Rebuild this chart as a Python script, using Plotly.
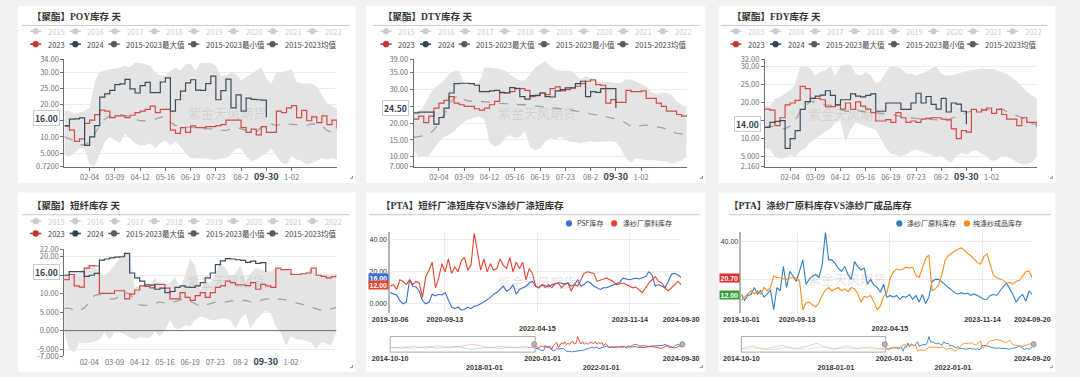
import pandas as pd
import plotly.graph_objects as go

# ===================== DATA =====================
week_index = list(range(55))
week_tick_index = [5, 10, 15, 20, 25, 30, 35, 40, 45]
week_tick_labels = ["02-04", "03-09", "04-12", "05-16", "06-19", "07-23", "08-2", "09-30", "1-02"]
legend_years = ["2015", "2016", "2017", "2018", "2019", "2020", "2021", "2022"]
legend_series = ["2023", "2024", "2015-2023最大值", "2015-2023最小值", "2015-2023均值"]

# POY
poy_2023 = [13.4, 12.1, 8.6, 9.4, 14.2, 15.2, 16.9, 18.3, 18.0, 16.0, 16.5, 16.5, 16.0, 16.7, 17.5, 18.0, 18.5, 19.5, 17.5, 18.5,
            18.5, 12.1, 11.1, 12.9, 11.4, 13.4, 12.9, 12.9, 13.2, 13.2, 13.5, 13.8, 15.2, 15.2, 15.2, 12.9, 11.4, 12.4, 10.6, 13.2,
            11.4, 11.4, 18.0, 17.5, 19.0, 19.7, 16.0, 18.2, 15.0, 16.2, 14.4, 16.5, 13.8, 15.2, 12.6]
poy_2024 = [13.4, 15.5, 15.6, 15.9, 7.4, 10.0, 13.5, 22.3, 23.3, 24.4, 26.2, 26.4, 27.8, 24.9, 23.6, 25.9, 26.9, 23.7, 23.7, 27.0,
            28.3, 18.0, 21.5, 24.2, 26.7, 27.7, 24.5, 24.4, 26.5, 28.8, 21.5, 24.3, 27.9, 19.0, 23.0, 18.0, 22.0, 21.6, 21.5, 21.4, 16.0]
poy_mean = [10, 9.5, 8.8, 7.6, 7.5, 8.5, 11, 13.5, 15.5, 16.5, 16.5, 17, 16.5, 16.5, 15.5, 15, 15, 15.5, 15.5, 16,
            16.5, 14.5, 13.5, 13.5, 13, 13, 12.8, 12.5, 12.5, 12.5, 12.5, 12, 12, 12.5, 13, 12.5, 12, 11.5, 11.5, 13,
            14, 14, 13.5, 14, 14, 14, 13.8, 13.5, 13.5, 14, 14, 13.5, 12, 11.5, 10]
poy_max = [18, 18, 17, 17.5, 18, 19, 27, 30, 30.5, 31, 31, 31.5, 32, 31.5, 33, 33, 32.5, 32, 30, 29,
           29, 30.5, 31.5, 30.5, 32.5, 32.7, 30.5, 33, 33, 33, 32, 29, 29, 30, 29.5, 27.5, 28.5, 29.5, 30.5, 31.5,
           28, 26.5, 30, 30, 30.5, 31, 27, 26.5, 26.5, 26.5, 25.5, 23, 20.5, 19.5, 18.7]
poy_min = [4.4, 3.9, 5, 6.5, 6.5, 1.4, 1, 4.5, 8.4, 10, 9, 8, 11, 9.5, 8, 7.4, 7.4, 8, 6.5, 8,
           9, 7.4, 8.5, 7, 5, 3.4, 3.4, 3.4, 3.4, 3, 2.9, 3.5, 3.5, 4.5, 6.4, 6.4, 4, 2.4, 3, 4,
           5, 6.4, 4, 2, 1.4, 4, 3, 2.5, 1.4, 2, 2.5, 3.5, 3, 3.5, 3]

# DTY
dty_2023 = [21.2, 22.1, 20.2, 22.1, 24.5, 26, 26.8, 27.9, 26, 25.5, 25, 25, 24.3, 23.9, 24.5, 25.5, 26.5, 29, 29, 29.4,
            30.3, 30.3, 29.8, 27.9, 28.4, 29, 28.5, 30.3, 30.8, 29.6, 30, 30.5, 31, 31.8, 32.5, 32.9, 31.5, 31.3, 26, 27,
            26.2, 26.2, 29.8, 29.4, 29.4, 29.6, 27.4, 27.4, 26, 25, 23.6, 23.6, 22.6, 22.1, 22.6]
dty_2024 = [23.1, 23.3, 23.3, 23.3, 19.7, 21.7, 24.5, 29, 31.8, 31.9, 31.9, 31.8, 31.3, 29.4, 29.4, 29.6, 29.8, 29.2, 29.0, 30.6,
            30.4, 27.9, 27.2, 28.2, 28.2, 29, 27.9, 27.8, 29.6, 30, 30.5, 30.5, 31.8, 32.5, 27.9, 29.4, 29.2, 30.3, 30.3, 30.3, 24.5]
dty_mean = [15.8, 16, 16.3, 16.8, 18, 20, 22.5, 25.5, 27.5, 28.4, 27, 26.5, 26.8, 26.5, 26.5, 26.3, 26, 26, 25.8, 25.7,
            25.5, 25.5, 25.5, 25.3, 25.2, 25, 24.8, 24.7, 24.5, 24.3, 24.3, 24, 23.8, 23.5, 23.1, 22.8, 22.5, 22.1, 21.8, 21.5,
            21.3, 21, 20, 19, 18.8, 19.3, 19.4, 19.2, 19, 18.7, 18.3, 17.8, 17, 16.8, 17]
dty_max = [23.5, 23.5, 25, 28, 30.3, 31.5, 32.7, 34.5, 35.6, 35.6, 31.8, 31.8, 31.5, 32, 36.6, 36.6, 36.5, 36.2, 35.6, 34.5,
           33.5, 32.7, 32.7, 34.6, 36.5, 37.5, 38.5, 37, 36, 35.6, 35.6, 35.6, 34.5, 33, 34, 33.5, 32.5, 32.3, 32.3, 32.3,
           32, 32, 33, 33, 32.3, 31.8, 31, 29.3, 28.8, 29, 29, 28.5, 26.5, 25.5, 24.8]
dty_min = [12, 10, 10, 10.3, 12.5, 14.4, 15.8, 16.5, 17.7, 19.2, 20.5, 21.2, 21.5, 22, 21.2, 14.4, 13, 13.5, 15.5, 16.5,
           15.5, 16, 17.7, 13, 12, 12.5, 14.4, 15.7, 15, 16, 15, 14.5, 14.4, 14, 14.4, 14.6, 14.4, 14.5, 14.4, 14.6,
           14.4, 12.5, 9.6, 8.2, 9.6, 9.3, 9, 9, 8.8, 8.7, 8.5, 8, 8.3, 9, 10]

# FDY
fdy_2023 = [18.2, 17.9, 13.6, 15.8, 19.4, 19.9, 20.6, 24.5, 23.9, 21.2, 21.2, 20.8, 18.8, 18.9, 19.4, 18.2, 19.9, 18.1, 20.2, 19,
            18.2, 17.2, 14.9, 14.9, 15.3, 14.5, 17.2, 15.8, 14.5, 14.9, 14.5, 15.4, 15.6, 15.8, 15.8, 15.4, 15.2, 12.7, 10, 12.2,
            11.8, 18.1, 17.4, 17.9, 18.5, 17, 18.1, 16.7, 15.4, 15.4, 13.6, 15.8, 14.5, 14.5, 13.1]
fdy_2024 = [13.1, 14.5, 14.8, 15, 7.3, 10, 12.2, 18.1, 20.3, 21.2, 21.8, 22.1, 23.3, 22, 19.4, 20.8, 20.8, 22.4, 21.8, 21.6,
            22, 22.4, 17.6, 17.6, 19.9, 19.9, 19.9, 18.1, 18.1, 19.9, 22.6, 19.9, 21.7, 19.5, 18.2, 21.2, 17.4, 19.9, 19.6, 17.6, 14]
fdy_mean = [13.1, 13.5, 13.3, 12.8, 12.7, 13.5, 15, 17.5, 19, 20.3, 20.2, 19.6, 19.3, 19.3, 18.6, 18.2, 17.6, 17.7, 18.1, 17.6,
            17.3, 17.2, 17.2, 17, 16.8, 16.4, 16.2, 16.1, 15.9, 15.7, 15.6, 15.5, 15.4, 15.4, 15.3, 15.2, 15.1, 15.6, 16, 16.6,
            17.2, 17.8, 18.2, 18.2, 18, 18, 18.1, 18.3, 17.5, 17, 16.5, 15.8, 15, 14.2, 13.8]
fdy_max = [19, 19, 21, 21.5, 22.5, 23.5, 25, 30, 30, 29.5, 27.5, 28.5, 29, 30.2, 27.5, 30.2, 30.5, 30.6, 28, 27.5,
           28.5, 27.5, 25.3, 26, 28.5, 30.2, 30, 29.5, 28, 28, 27.5, 28, 28.5, 29.5, 30.2, 28, 27.5, 27.5, 28, 28.5,
           28.8, 29, 29.3, 29.5, 29.3, 29.3, 29, 28.5, 28, 27, 26, 24.5, 23, 22, 21.2]
fdy_min = [7.3, 7, 5, 4.5, 4.6, 5.5, 5, 6.5, 7.3, 9, 10, 11, 12, 12.7, 14.5, 15, 9.1, 12.5, 14.5, 14,
           13.5, 13, 12.5, 10, 7.5, 5.8, 5.5, 5.2, 5.5, 6.5, 7, 6.5, 5.8, 5.5, 5, 5.3, 4, 3.3, 5.2, 6,
           5.5, 6.5, 6.8, 5.8, 5.2, 3.8, 4, 5.2, 5, 4.5, 3.5, 2.8, 2.8, 3.5, 5]

# 短纤
psf_2023 = [13.8, 15.2, 12.1, 11.8, 16.9, 17.6, 17.5, 10.1, 10.1, 10.1, 10.8, 10.8, 8.6, 9.9, 11, 12.1, 12, 11.6, 12.5, 12.5,
            11.5, 8.6, 8.6, 10.3, 9, 8.2, 9.5, 10.3, 9, 10.3, 11.7, 12.1, 13.4, 13, 12.4, 12.4, 12.2, 13, 11.2, 12.5,
            12.1, 11.7, 16.9, 16.5, 16.5, 15.2, 15.2, 15.4, 15.6, 16.9, 15, 14.7, 14.3, 14.6, 15.3]
psf_2024 = [15, 16, 16, 16, 14.7, 15, 15.5, 19.1, 19.4, 19.7, 19.9, 20, 20.9, 15.6, 14.3, 13.4, 12.4, 12.3, 11.2, 11.5,
            10.3, 10.6, 11.7, 12.1, 11.8, 11.7, 12.1, 13, 14.3, 15.6, 17.9, 18.9, 19.5, 19.4, 19.2, 19, 18.5, 18.8, 18.2, 18.4, 15.9]
psf_mean = [6, 6.1, 5.5, 5.3, 6.2, 7.5, 9.5, 9.9, 9, 8.6, 8.6, 9.3, 10.3, 10, 8.3, 7, 6.8, 7, 7.3, 7.8,
            7.4, 7.9, 7.8, 8.3, 8.6, 8, 7.3, 6.6, 6.9, 7.4, 7.7, 7.8, 7.7, 8, 8.1, 8.2, 8.2, 7.8, 7.8, 8.2,
            8.6, 8.6, 8.6, 8.5, 8.3, 8, 7.6, 7.2, 6.8, 6.4, 5.9, 5.5, 5.5, 5.8, 6.3]
psf_max = [15.2, 15.5, 15.3, 15.5, 17, 17.8, 17.6, 15.5, 15, 16, 17.8, 19.5, 21.3, 21, 11.5, 12.3, 12.5, 12, 14.2, 12.6,
           12.5, 13, 14.5, 11.5, 15, 19.5, 17.5, 11, 13.5, 12.5, 15.5, 18.5, 17, 14.5, 15.5, 17.8, 13, 15.5, 17, 16.5,
           16, 16, 17, 16.5, 16.6, 15.8, 15.5, 15.5, 15.7, 17, 15.3, 15.2, 15.2, 15.2, 15.4]
psf_min = [-0.5, -5, -5.9, -3.3, -3.5, -3.3, -3, -2.4, -0.5, -2.4, -0.5, -0.5, -1, -1.8, -2.4, -1.8, -2, -2, -0.3, -1.5,
           0, 2.9, 0.5, 0.5, 1.5, 1.1, 2.9, 3.8, 3.5, 2.9, 2.9, 3.3, 3.3, 2.9, 0.5, 3.3, 4.6, 0.5, 2.9, 4.2,
           5.5, 4.6, 1.1, -0.5, -4.1, -1.5, -2.4, -2.4, -2.8, -3.2, -5, -3.2, -3.5, -4, -0.5]

# PTA panels: 短纤厂涤短库存 vs 涤纱厂涤短库存
psf_start, psf_end = "2019-10-06", "2024-09-30"
history_start = "2014-10-10"
psf_stock = [7, 6, 5.5, 2, 0, 1, 15, 11, 10.5, 8, 2, 0, 1, 6, 5, 6, 5.5, 7, 3, -2,
             -3, -2, -4, -3.5, -2, -3, -1.5, -1, 0, 1, 2.5, 4, 6, 7, 9, 11, 8, 9, 12, 6,
             9, 10, 11, 13, 14, 11, 10, 12, 11, 10.5, 12, 12.5, 13, 13, 12, 13, 11, 12, 15, 11,
             12, 14, 13, 11, 10, 9, 10, 10, 11, 12, 13, 13.5, 16, 15.5, 15, 15.5, 16, 15.5, 16.5, 17,
             20, 18, 11, 12, 11, 10, 14, 18.5, 19, 18, 16.4]
spinner_psf_stock = [11, 12, 9, 15, 14, 12, 15, 12, 14, 13, 4, 17, 21, 26, 10, 16, 25, 20, 28, 19,
                     23, 20, 27, 29, 21, 24, 44, 31, 21, 28, 20, 25, 21, 22, 28, 24, 22, 29, 20, 26,
                     22, 26, 15, 22, 19, 11, 10, 12, 10, 12, 10, 12.5, 13, 10, 12.5, 13, 8, 12, 11, 15,
                     19, 20, 19.5, 19, 14, 15, 15.5, 16, 15, 14, 12, 12.5, 13, 12, 11, 10, 10.5, 9, 7, 10,
                     13, 15, 17, 14, 13, 10, 8, 10, 12, 14, 12]
psf_stock_early = [8, 10, 12, 9, 7, 11, 13, 10, 8, 9, 12, 14, 11, 8, 4, 6, 10, 12, 9, 7, 10, 12, 9, 8, 10, 7]
spinner_psf_stock_early = [12, 9, 7, 11, 14, 10, 8, 12, 15, 13, 9, 10, 13, 16, 20, 18, 13, 9, 11, 14, 12, 9, 11, 13, 10, 11]
p5_ticks = ["2019-10-06", "2020-09-13", "2022-04-15", "2023-11-14", "2024-09-30"]
p5_mini_ticks = ["2014-10-10", "2018-01-01", "2020-01-01", "2022-01-01", "2024-09-30"]

# PTA panels: 涤纱厂原料库存 vs 纯涤纱成品库存
yarn_start, yarn_end = "2019-10-01", "2024-09-20"
yarn_raw_stock = [12.3, 9, 11.5, 12, 15.7, 12.3, 14, 10.6, 12.3, 14.5, 4, 15.7, 14, 26.8, 15.7, 24.3, 21.7, 19, 24.3, 30.3,
                  17.4, 20, 21.7, 22.6, 21, 27.7, 44.8, 30.3, 30.3, 28.5, 26, 24.3, 26.8, 22.5, 20, 29.4, 26.8, 25, 26, 17.4,
                  20, 17, 15.7, 13.2, 17.4, 10.6, 11.5, 10.6, 11.5, 9.5, 11, 10.6, 12, 9.5, 11.5, 8, 12, 7.2, 10.6, 19,
                  20, 20, 18.8, 17, 15.7, 14.5, 13, 12.3, 13, 12.3, 12.8, 11.5, 12.3, 11.5, 10.6, 9.5, 9.5, 11.5, 12, 11.5,
                  14, 16, 18, 15, 12, 8, 10.5, 12, 8.5, 14, 12]
yarn_product_stock = [8.9, 10.6, 12.3, 14, 12.3, 14, 12.3, 15.7, 14, 15.7, 21.7, 21, 20.9, 20.5, 20, 20.9, 20.9, 20.9, 19, 3.8,
                      7.5, 8, 6.5, 5.5, 7.5, 11.5, 14.5, 15.7, 14, 15, 15.7, 14, 15, 13.5, 15.7, 15, 12.5, 8, 11, 10.6,
                      11.5, 8, 4, 6, 11, 13, 20.5, 24, 25.5, 25, 25.5, 26.5, 26, 26.5, 22, 21, 26, 31, 33, 14,
                      15, 17, 22.5, 30, 32.5, 34, 35, 35.8, 36.6, 35.5, 33.7, 32.5, 30.5, 29, 28, 32, 33.5, 28, 22, 20.9,
                      20, 19.5, 18, 18.5, 17.5, 19, 19.5, 21.5, 24, 24.5, 20.7]
yarn_raw_stock_early = [10, 14, 18, 12, 9, 13, 16, 20, 14, 10, 12, 17, 22, 26, 18, 13, 10, 14, 19, 15, 11, 13, 16, 12, 10, 12.3]
yarn_product_stock_early = [12, 9, 10, 13, 11, 8, 10, 12, 15, 13, 10, 9, 11, 14, 16, 12, 9, 11, 13, 10, 12, 14, 11, 9, 10, 8.9]
p6_ticks = ["2019-10-01", "2020-09-13", "2022-04-15", "2023-11-14", "2024-09-20"]
p6_mini_ticks = ["2014-10-10", "2018-01-01", "2020-01-01", "2022-01-01", "2024-09-20"]

# ===================== LAYOUT =====================
W, H = 1080, 377
FONT = "Noto Sans CJK SC, Noto Sans, sans-serif"
TITLE_FONT = "Liberation Serif, Noto Sans CJK SC, serif"
ARIAL = "Liberation Sans, Arial, Noto Sans CJK SC, sans-serif"
RED, NAVY, DGRAY = "#c23531", "#2f4554", "#5b5b5b"


def fx(x):
    return x / W


def fy(y):
    return 1 - y / H


fig = go.Figure()
shapes, annos = [], []
layout = {}

# panels
for x0, y0, x1, y1 in [(0, 0, 349, 182), (360, 0, 711, 182), (725, 0, 1073, 182),
                       (0, 192, 349, 377), (360, 192, 711, 377), (725, 192, 1073, 377)]:
    shapes.append(dict(type="rect", xref="paper", yref="paper", x0=fx(x0), x1=fx(x1), y0=fy(y1), y1=fy(y0),
                       fillcolor="white", line=dict(width=0), layer="below"))
    cx, cy = x1 - 3, y1 - 4.5
    shapes.append(dict(type="line", xref="paper", yref="paper", x0=fx(cx - 2.5), x1=fx(cx), y0=fy(cy), y1=fy(cy),
                       line=dict(color="#888", width=1)))
    shapes.append(dict(type="line", xref="paper", yref="paper", x0=fx(cx), x1=fx(cx), y0=fy(cy - 2.5), y1=fy(cy),
                       line=dict(color="#888", width=1)))


def title(text, x, y, rule):
    annos.append(dict(xref="paper", yref="paper", x=fx(x), y=fy(y), text="<b>%s</b>" % text, showarrow=False,
                      xanchor="left", yanchor="middle", font=dict(size=9.5, color="#333", family=TITLE_FONT)))
    shapes.append(dict(type="line", xref="paper", yref="paper", x0=fx(rule[0]), x1=fx(rule[1]), y0=fy(rule[2]),
                       y1=fy(rule[2]), line=dict(color="#c8c8c8", width=1)))


def legend_item(cx, cy, color, text, tcolor, size=7.5, with_line=True, r=3.2, gap=10.5):
    if with_line:
        shapes.append(dict(type="line", xref="paper", yref="paper", x0=fx(cx - 5.8), x1=fx(cx + 5.8), y0=fy(cy),
                           y1=fy(cy), line=dict(color=color, width=1.5)))
    shapes.append(dict(type="circle", xref="paper", yref="paper", x0=fx(cx - r), x1=fx(cx + r), y0=fy(cy + r),
                       y1=fy(cy - r), fillcolor=color, line=dict(color=color, width=0)))
    annos.append(dict(xref="paper", yref="paper", x=fx(cx + gap), y=fy(cy), text=text, showarrow=False,
                      xanchor="left", yanchor="middle", font=dict(size=size, color=tcolor, family=FONT)))


def watermark(x, y):
    annos.append(dict(xref="paper", yref="paper", x=fx(x), y=fy(y), text="紫金天风期货", showarrow=False,
                      font=dict(size=13, color="rgba(150,150,150,0.25)", family=FONT)))


seasonal_panels = [
    dict(n=1, title="【聚酯】POY库存 天", plot=(48, 330, 55, 165.7), yrange=[0.72, 34],
         yticks=[0.72, 5, 10, 15, 20, 25, 30, 34],
         ytext=["0.7200", "5.000", "10.00", "15.00", "20.00", "25.00", "30.00", "34.00"],
         mark=(16, "16.00"), data=(poy_max, poy_min, poy_mean, poy_2023, poy_2024),
         title_xy=(12, 11), rule=(4, 343, 20), leg=(18.3, 26, 39.3), wm=(174, 98), zero=False),
    dict(n=2, title="【聚酯】DTY库存 天", plot=(409.3, 691.7, 55, 165.7), yrange=[7, 39],
         yticks=[7, 10, 15, 20, 25, 30, 35, 39],
         ytext=["7.000", "10.00", "15.00", "20.00", "25.00", "30.00", "35.00", "39.00"],
         mark=(24.5, "24.50"), data=(dty_max, dty_min, dty_mean, dty_2023, dty_2024),
         title_xy=(375, 11), rule=(367, 705, 20), leg=(380.7, 26, 39.3), wm=(537, 98), zero=False),
    dict(n=3, title="【聚酯】FDY库存 天", plot=(772.7, 1054, 55, 165.7), yrange=[2.16, 32],
         yticks=[2.16, 5, 10, 15, 20, 25, 30, 32],
         ytext=["2.160", "5.000", "10.00", "15.00", "20.00", "25.00", "30.00", "32.00"],
         mark=(14, "14.00"), data=(fdy_max, fdy_min, fdy_mean, fdy_2023, fdy_2024),
         title_xy=(737, 11), rule=(727, 1065, 20), leg=(742.7, 26, 39.3), wm=(900, 99), zero=False),
    dict(n=4, title="【聚酯】短纤库存 天", plot=(47.7, 329.3, 250.7, 361), yrange=[-7, 22],
         yticks=[-7, -5, 0, 5, 10, 15, 20, 22],
         ytext=["-7.000", "-5.000", "0.000", "5.000", "10.00", "15.00", "20.00", "22.00"],
         mark=(16, "16.00"), data=(psf_max, psf_min, psf_mean, psf_2023, psf_2024),
         title_xy=(12, 205.7), rule=(4, 343, 215), leg=(18.3, 221.7, 234.3), wm=(173, 295), zero=True),
]

AXC = "#6e7079"
row2_offsets = [0, 41, 81, 163.4, 245]
row2_colors = [RED, NAVY, DGRAY, DGRAY, DGRAY]

for p in seasonal_panels:
    n = p["n"]
    xa, ya = "x%d" % n, "y%d" % n
    vmax, vmin, vmean, v23, v24 = p["data"]
    fig.add_trace(go.Scatter(x=week_index, y=vmin, mode="lines", line=dict(width=0, color="#e4e4e4"),
                             xaxis=xa, yaxis=ya, showlegend=False, hoverinfo="skip"))
    fig.add_trace(go.Scatter(x=week_index, y=vmax, mode="lines", line=dict(width=0, color="#e4e4e4"),
                             fill="tonexty", fillcolor="#e4e4e4", xaxis=xa, yaxis=ya, showlegend=False,
                             hoverinfo="skip"))
    fig.add_trace(go.Scatter(x=week_index, y=vmean, mode="lines", line=dict(width=1.3, color="#a3a3a3", dash="dash"),
                             xaxis=xa, yaxis=ya, showlegend=False))
    fig.add_trace(go.Scatter(x=week_index, y=v23, mode="lines", line=dict(width=1.2, color="#d44a48", shape="hv"),
                             xaxis=xa, yaxis=ya, showlegend=False))
    fig.add_trace(go.Scatter(x=week_index[:len(v24)], y=v24, mode="lines",
                             line=dict(width=1.2, color="#3b4c5c", shape="hv"),
                             xaxis=xa, yaxis=ya, showlegend=False))
    l, r, t, b = p["plot"]
    ticktext = [('<span style="font-size:9px;color:#333f50"><b>%s</b></span>' % s) if s == "09-30" else s
                for s in week_tick_labels]
    layout["xaxis%d" % n] = dict(domain=[fx(l), fx(r)], anchor=ya, range=[0, 54], tickvals=week_tick_index,
                                 ticktext=ticktext, showline=not p["zero"], linecolor=AXC, linewidth=1,
                                 ticks="" if p["zero"] else "outside", ticklen=3, tickcolor=AXC,
                                 showgrid=False, zeroline=False,
                                 tickfont=dict(size=7.5, color=AXC, family=FONT), fixedrange=True)
    layout["yaxis%d" % n] = dict(domain=[fy(b), fy(t)], anchor=xa, range=p["yrange"], tickvals=p["yticks"],
                                 ticktext=p["ytext"], showline=True, linecolor=AXC, linewidth=1, ticks="outside",
                                 ticklen=3, tickcolor=AXC, showgrid=True, gridcolor="#ececec", gridwidth=1,
                                 zeroline=False,
                                 tickfont=dict(size=7.5, color=AXC, family=FONT), fixedrange=True)
    if p["zero"]:
        shapes.append(dict(type="line", xref="paper", yref=ya, x0=fx(l), x1=fx(r), y0=0, y1=0,
                           line=dict(color=AXC, width=1)))
    annos.append(dict(xref="paper", yref=ya, x=fx(l - 4.5), y=p["mark"][0], text="<b>%s</b>" % p["mark"][1],
                      showarrow=False, xanchor="right", yanchor="middle", bgcolor="white", bordercolor="#cccccc",
                      borderwidth=1, borderpad=1, font=dict(size=8.5, color="#333f50", family=FONT)))
    title(p["title"], p["title_xy"][0], p["title_xy"][1], p["rule"])
    base, r1, r2 = p["leg"]
    for k, yr in enumerate(legend_years):
        legend_item(base + 40.9 * k, r1, "#cccccc", yr, "#cccccc")
    for k, nm in enumerate(legend_series):
        legend_item(base + row2_offsets[k], r2, row2_colors[k], nm, "#444")
    watermark(*p["wm"])


# ---------- PTA panels ----------
def bold(lst, second_row):
    out = []
    for s in lst:
        t = "<b>%s</b>" % s
        if s in second_row:
            t = "<br>" + t
        out.append(t)
    return out


pta_panels = [
    dict(n=5, m=6, title="【PTA】短纤厂涤短库存VS涤纱厂涤短库存", title_xy=(373, 205.7), rule=(363, 705, 215),
         start=psf_start, end=psf_end, s1=psf_stock, s2=spinner_psf_stock, e1=psf_stock_early,
         e2=spinner_psf_stock_early, c1="#3a6bd6", c2="#e5432b", names=("PSF库存", "涤纱厂原料库存"),
         leg=((570, 576), (616.7, 623.3)), plot=(385, 686, 233.3, 316.7), yrange=[-6, 44.5],
         ticks=p5_ticks, mini_ticks=p5_mini_ticks, mini_yrange=[-6, 46],
         boxes=[(16, "16.00", "#3a6bd6"), (12, "12.00", "#e5432b")], wm=(537, 296), sel_x=535),
    dict(n=7, m=8, title="【PTA】涤纱厂原料库存VS涤纱厂成品库存", title_xy=(733, 205.7), rule=(735, 1068, 215),
         start=yarn_start, end=yarn_end, s1=yarn_raw_stock, s2=yarn_product_stock, e1=yarn_raw_stock_early,
         e2=yarn_product_stock_early, c1="#2f7dc2", c2="#ff8a1c", names=("涤纱厂原料库存", "纯涤纱成品库存"),
         leg=((911.7, 917.3), (981.7, 986)), plot=(748.3, 1049.3, 232.7, 316.7), yrange=[2, 45.1],
         ticks=p6_ticks, mini_ticks=p6_mini_ticks, mini_yrange=[0, 46],
         boxes=[(20.7, "20.70", "#df2c2c"), (12, "12.00", "#3a9e3a")], wm=(900, 293), sel_x=897.7),
]

for p in pta_panels:
    n, m = p["n"], p["m"]
    xa, ya, xm, ym = "x%d" % n, "y%d" % n, "x%d" % m, "y%d" % m
    dates = pd.date_range(p["start"], p["end"], periods=len(p["s1"]))
    early = pd.date_range(history_start, p["start"], periods=len(p["e1"]))
    for s, c in ((p["s1"], p["c1"]), (p["s2"], p["c2"])):
        fig.add_trace(go.Scatter(x=dates, y=s, mode="lines", line=dict(width=1.1, color=c), xaxis=xa, yaxis=ya,
                                 showlegend=False))
    for s, c in ((p["e1"], p["c1"]), (p["e2"], p["c2"])):
        fig.add_trace(go.Scatter(x=early, y=s, mode="lines", line=dict(width=0.9, color=c), opacity=0.3,
                                 xaxis=xm, yaxis=ym, showlegend=False))
    for s, c in ((p["s1"], p["c1"]), (p["s2"], p["c2"])):
        fig.add_trace(go.Scatter(x=dates, y=s, mode="lines", line=dict(width=0.9, color=c), xaxis=xm, yaxis=ym,
                                 showlegend=False))
    l, r, t, b = p["plot"]
    layout["xaxis%d" % n] = dict(domain=[fx(l), fx(r)], anchor=ya, type="date", range=[p["start"], p["end"]],
                                 tickvals=p["ticks"], ticktext=bold(p["ticks"], ["2022-04-15"]), ticks="",
                                 showline=False, showgrid=True, gridcolor="#ececec", zeroline=False,
                                 tickfont=dict(size=7.2, color="#333", family=ARIAL), fixedrange=True)
    layout["yaxis%d" % n] = dict(domain=[fy(b), fy(t)], anchor=xa, range=p["yrange"], tickvals=[0, 20, 40],
                                 ticktext=["0.000", "20.00", "40.00"], showline=True, linecolor="#b5b5b5",
                                 linewidth=1.5, ticks="", showgrid=True, gridcolor="#ececec", zeroline=False,
                                 tickfont=dict(size=7, color="#333", family=ARIAL), fixedrange=True)
    layout["xaxis%d" % m] = dict(domain=[fx(l), fx(r)], anchor=ym, type="date", range=[history_start, p["end"]],
                                 tickvals=p["mini_ticks"], ticktext=bold(p["mini_ticks"], ["2018-01-01", "2022-01-01"]),
                                 ticks="", showline=False, showgrid=False, zeroline=False,
                                 tickfont=dict(size=7.2, color="#333", family=ARIAL), fixedrange=True)
    layout["yaxis%d" % m] = dict(domain=[fy(357), fy(340)], anchor=xm, range=p["mini_yrange"], showticklabels=False,
                                 showgrid=False, zeroline=False, showline=False, fixedrange=True)
    # slider frame and handles
    shapes.append(dict(type="rect", xref="paper", yref="paper", x0=fx(l), x1=fx(p["sel_x"]), y0=fy(356.5),
                       y1=fy(340.5), line=dict(color="#aaaaaa", width=1), fillcolor="rgba(0,0,0,0)"))
    for hx in (p["sel_x"] - 1, r + 1.3):
        shapes.append(dict(type="circle", xref="paper", yref="paper", x0=fx(hx - 2.6), x1=fx(hx + 2.6),
                           y0=fy(348.5 + 2.8), y1=fy(348.5 - 2.8), fillcolor="#b5b5b5",
                           line=dict(color="#8a8a8a", width=0.8)))
    for val, txt, col in p["boxes"]:
        annos.append(dict(xref="paper", yref=ya, x=fx(l - 1.7), y=val, text="<b>%s</b>" % txt, showarrow=False,
                          xanchor="right", yanchor="middle", bgcolor=col, borderpad=0.5,
                          font=dict(size=7, color="white", family=ARIAL)))
    title(p["title"], p["title_xy"][0], p["title_xy"][1], p["rule"])
    (c1x, t1x), (c2x, t2x) = p["leg"]
    legend_item(c1x, 224, p["c1"], p["names"][0], "#333", size=7, with_line=False, r=3.2, gap=t1x - c1x)
    legend_item(c2x, 224, p["c2"], p["names"][1], "#333", size=7, with_line=False, r=3.2, gap=t2x - c2x)
    watermark(*p["wm"])

fig.update_layout(width=W, height=H, autosize=False, margin=dict(l=0, r=0, t=0, b=0),
                  paper_bgcolor="#f2f2f2", plot_bgcolor="rgba(0,0,0,0)", showlegend=False,
                  shapes=shapes, annotations=annos, **layout)
fig.write_html("out.html", config={"displayModeBar": False},
               post_script="document.body.style.margin='0';document.body.style.padding='0';")
